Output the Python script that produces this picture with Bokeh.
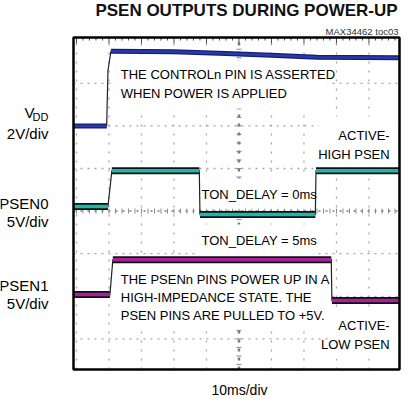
import numpy as np
from bokeh.plotting import figure
from bokeh.models import Range1d, Label
from bokeh.embed import file_html
from bokeh.resources import INLINE

# ---- data: time in ms (10 ms/div), level in screen divisions ----
vdd_t = [-0.8, 9.3, 9.7, 10.6, 30.0, 46.0, 60.0, 74.0, 99.3]
vdd_v = [6.00, 6.00, 7.30, 7.75, 7.74, 7.70, 7.66, 7.61, 7.60]
psen0_t = [-0.8, 9.7, 10.9, 37.8, 38.0, 73.5, 73.7, 99.3]
psen0_v = [4.11, 4.11, 4.95, 4.95, 3.92, 3.92, 4.95, 4.95]
psen1_t = [-0.8, 10.3, 11.2, 78.4, 78.6, 99.3]
psen1_v = [2.04, 2.04, 2.86, 2.86, 1.90, 1.90]

x_major = [0, 10, 20, 30, 40, 50, 60, 70, 80, 90]
y_major = [1, 2, 3, 4, 5, 6, 7]

FONT = "Liberation Sans"

# reference-pixel -> data helpers
def tx(px):
    return (px - 87.0) / 3.3

def ty(py):
    return (389.0 - py) / 42.6

W, H = 401, 396
BOX_L, BOX_R = 81, 407           # scope box, page px
K = (tx(415) - tx(84)) / (BOX_R - BOX_L)   # ms per page px

def xp(page_px):
    return tx(84) + (page_px - BOX_L) * K

p = figure(width=W, height=H, output_backend="svg", toolbar_location=None,
           x_range=Range1d(xp(8), xp(8 + W)), y_range=Range1d(ty(8 + H), ty(8)),
           x_axis_type=None, y_axis_type=None, min_border=0)
p.title = None
p.outline_line_color = None
p.xgrid.visible = False
p.ygrid.visible = False
p.background_fill_color = "white"
p.border_fill_color = "white"

x0, x1 = tx(84), tx(415)
y0, y1 = ty(377), ty(45)

# graticule
p.multi_line([[x, x] for x in x_major if x != 50], [[y0, y1]] * 9,
             line_color="#a6a6a6", line_width=1.3, line_dash="2 7")
p.multi_line([[x0, x1] for y in y_major if y != 4], [[y, y] for y in y_major if y != 4],
             line_color="#a6a6a6", line_width=1.3, line_dash="2 5")
p.line([50, 50], [y0, y1], line_color="#7a7a7a", line_width=2.5, line_dash="3 6")
p.line([x0, x1], [4, 4], line_color="#7a7a7a", line_width=1.5, line_dash="2 5")
minor_x = np.arange(0, 100, 2.0)
p.scatter(minor_x, np.full(len(minor_x), 4.0), marker="dash", angle=np.pi / 2, size=5,
          line_color="#888888", line_width=1)
minor_y = np.arange(0.4, 8.0, 0.2)
p.scatter(np.full(len(minor_y), 50.0), minor_y, marker="dash", size=5,
          line_color="#888888", line_width=1)
# ticks hanging from top edge
tick_len = np.where(np.isin(minor_x, x_major), 6, 3) / 42.6
p.segment(x0=minor_x, y0=np.full(len(minor_x), y1), x1=minor_x, y1=y1 - tick_len,
          line_color="#444444", line_width=1)

# white text boxes (ref px)
boxes = [(124, 342, 68, 116), (333, 413, 124, 172), (209, 330, 186, 216),
         (209, 330, 232, 262), (126, 344, 272, 336), (345, 413, 316, 366)]
p.quad(left=[tx(b[0]) for b in boxes], right=[tx(b[1]) for b in boxes],
       top=[ty(b[2]) for b in boxes], bottom=[ty(b[3]) for b in boxes],
       fill_color="white", line_color=None)

def split_plateaus(t, v):
    xs, ys = [[t[0]]], [[v[0]]]
    for i in range(1, len(t)):
        dt = t[i] - t[i - 1]
        dv = abs(v[i] - v[i - 1])
        if dv / max(dt, 1e-6) > 0.3:
            xs.append([t[i]]); ys.append([v[i]])
        else:
            xs[-1].append(t[i]); ys[-1].append(v[i])
    keep = [(a, b) for a, b in zip(xs, ys) if len(a) > 1]
    return [k[0] for k in keep], [k[1] for k in keep]

def trace(t, v, color, edge, width, under_w):
    p.line(t, v, line_color="#222222", line_width=1.2)
    xs, ys = split_plateaus(t, v)
    p.multi_line(xs, ys, line_color=edge, line_width=under_w)
    p.multi_line(xs, ys, line_color=color, line_width=width)

trace(vdd_t, vdd_v, "#2b3aa6", "#141e78", 2.5, 5)
trace(psen0_t, psen0_v, "#22b6aa", "#111111", 3.5, 7)
trace(psen1_t, psen1_v, "#a8229e", "#111111", 3.5, 7)

# scope frame
p.quad(left=[x0], right=[x1], top=[y1], bottom=[y0], fill_color=None,
       line_color="black", line_width=2.5)

def lab(text, x, py, size, align="left", bold=False, color="black"):
    p.add_layout(Label(x=x, y=ty(py), text=text, text_font=FONT,
                       text_font_size=f"{size}px", text_align=align,
                       text_baseline="middle", text_color=color,
                       text_font_style="bold" if bold else "normal"))

# outside-box texts (page px for x)
lab("PSEN OUTPUTS DURING POWER-UP", xp(254), 18, 17, "center", True, "#111111")
lab("MAX34462 toc03", xp(406), 39, 9.5, "right", False, "#333333")
lab("V", xp(42), 120, 15, "right")
lab("DD", xp(56), 124, 11, "right")
lab("2V/div", xp(56), 141, 15, "right")
lab("PSEN0", xp(56), 211, 15, "right")
lab("5V/div", xp(56), 229, 15, "right")
lab("PSEN1", xp(56), 293, 15, "right")
lab("5V/div", xp(56), 311, 15, "right")
lab("10ms/div", xp(247), 397, 14, "center")

# in-box texts (ref px)
bs = 13
lab("THE CONTROLn PIN IS ASSERTED", tx(132), 82, bs)
lab("WHEN POWER IS APPLIED", tx(132), 101, bs)
lab("ACTIVE-", tx(405), 143, bs, "right")
lab("HIGH PSEN", tx(405), 162, bs, "right")
lab("TON_DELAY = 0ms", tx(214), 202, bs)
lab("TON_DELAY = 5ms", tx(214), 248, bs)
lab("THE PSENn PINS POWER UP IN A", tx(132), 287, bs)
lab("HIGH-IMPEDANCE STATE. THE", tx(132), 305, bs)
lab("PSEN PINS ARE PULLED TO +5V.", tx(132), 323, bs)
lab("ACTIVE-", tx(405), 333, bs, "right")
lab("LOW PSEN", tx(405), 352, bs, "right")

open("out.html", "w").write(file_html(p, INLINE))
